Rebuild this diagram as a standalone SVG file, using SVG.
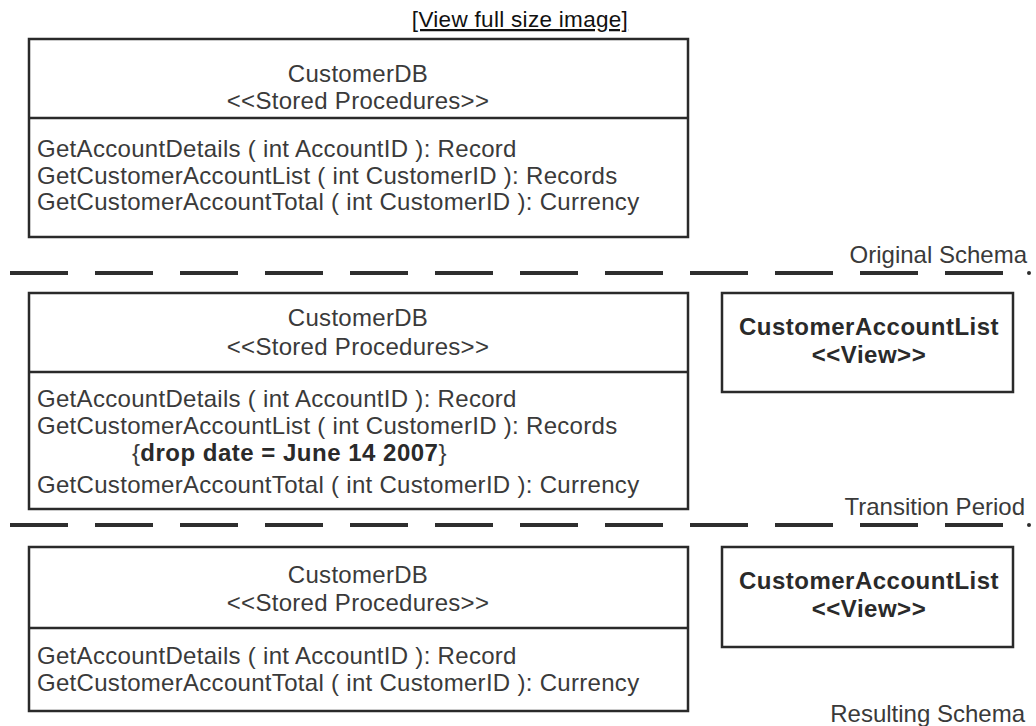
<svg xmlns="http://www.w3.org/2000/svg" width="1036" height="726" viewBox="0 0 1036 726">
<style>
  .box { fill: #fff; stroke: #2a2a2a; stroke-width: 2.5; }
  .div { stroke: #2a2a2a; stroke-width: 2.5; }
  .t { font-family: "Liberation Sans", Arial, sans-serif; font-size: 24px; fill: #3a3a3a; letter-spacing: 0.3px; }
  .c { text-anchor: middle; }
  .r { text-anchor: end; letter-spacing: 0; }
  .b { font-weight: bold; fill: #2a2a2a; letter-spacing: 0.5px; }
  .dash { stroke: #2e2e2e; stroke-width: 4; stroke-dasharray: 58 27; fill: none; }
  .dot { fill: #2e2e2e; }
</style>
<rect width="1036" height="726" fill="#fff"/>
<g id="link">
  <text x="520" y="27" class="t c" style="font-size:22.5px;fill:#111;text-decoration:underline">[View full size image]</text>
</g>
<g id="db-original">
  <rect class="box" x="29" y="39" width="659" height="198"/>
  <line class="div" x1="29" y1="118" x2="688" y2="118"/>
  <text class="t c" x="358" y="82">CustomerDB</text>
  <text class="t c" x="358" y="109">&lt;&lt;Stored Procedures&gt;&gt;</text>
  <text class="t" x="37" y="157">GetAccountDetails ( int AccountID ): Record</text>
  <text class="t" x="37" y="184">GetCustomerAccountList ( int CustomerID ): Records</text>
  <text class="t" x="37" y="210">GetCustomerAccountTotal ( int CustomerID ): Currency</text>
</g>
<g id="db-transition">
  <rect class="box" x="29" y="293" width="659" height="216"/>
  <line class="div" x1="29" y1="372" x2="688" y2="372"/>
  <text class="t c" x="358" y="326">CustomerDB</text>
  <text class="t c" x="358" y="355">&lt;&lt;Stored Procedures&gt;&gt;</text>
  <text class="t" x="37" y="407">GetAccountDetails ( int AccountID ): Record</text>
  <text class="t" x="37" y="434">GetCustomerAccountList ( int CustomerID ): Records</text>
  <text class="t" x="132" y="461">{<tspan class="b">drop date = June 14 2007</tspan>}</text>
  <text class="t" x="37" y="493">GetCustomerAccountTotal ( int CustomerID ): Currency</text>
</g>
<g id="view-transition">
  <rect class="box" x="722" y="293" width="291" height="99"/>
  <text class="t c b" x="869" y="335">CustomerAccountList</text>
  <text class="t c b" x="869" y="363">&lt;&lt;View&gt;&gt;</text>
</g>
<g id="db-result">
  <rect class="box" x="29" y="547" width="659" height="164"/>
  <line class="div" x1="29" y1="628" x2="688" y2="628"/>
  <text class="t c" x="358" y="583">CustomerDB</text>
  <text class="t c" x="358" y="611">&lt;&lt;Stored Procedures&gt;&gt;</text>
  <text class="t" x="37" y="664">GetAccountDetails ( int AccountID ): Record</text>
  <text class="t" x="37" y="691">GetCustomerAccountTotal ( int CustomerID ): Currency</text>
</g>
<g id="view-result">
  <rect class="box" x="722" y="547" width="291" height="100"/>
  <text class="t c b" x="869" y="589">CustomerAccountList</text>
  <text class="t c b" x="869" y="617">&lt;&lt;View&gt;&gt;</text>
</g>
<g id="separators">
  <line class="dash" x1="10" y1="273" x2="1005" y2="273"/>
  <circle class="dot" cx="1029" cy="273" r="2"/>
  <text class="t r" x="1027" y="263">Original Schema</text>
  <line class="dash" x1="10" y1="525" x2="1005" y2="525"/>
  <circle class="dot" cx="1029" cy="525" r="2"/>
  <text class="t r" x="1025" y="515">Transition Period</text>
  <text class="t r" x="1025" y="722">Resulting Schema</text>
</g>
</svg>
